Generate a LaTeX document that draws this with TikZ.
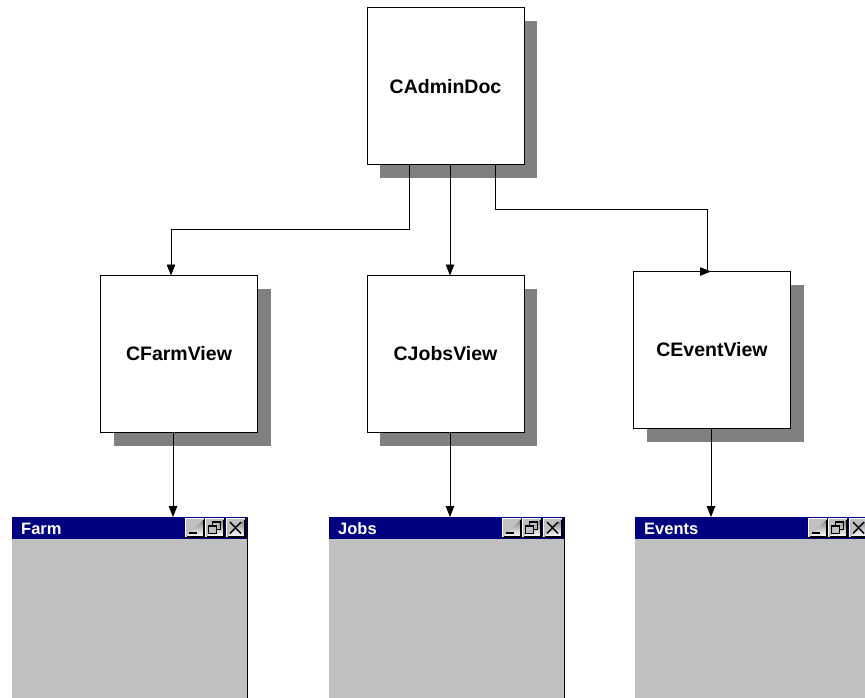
\documentclass[tikz,border=0pt]{standalone}
\usepackage{fontspec}
\setmainfont{Liberation Sans}
\usetikzlibrary{arrows.meta,shadows,calc}
\definecolor{shade}{HTML}{808080}
\definecolor{titleblue}{HTML}{000080}
\definecolor{winface}{HTML}{C0C0C0}
\tikzset{
  classbox/.style={draw=black, line width=1pt, fill=white, minimum width=157pt, minimum height=157pt,
    inner sep=0pt, outer sep=0pt, font=\bfseries\fontsize{19.5}{24}\selectfont,
    drop shadow={shadow xshift=13pt, shadow yshift=-13pt, fill=shade, opacity=1}},
  arr/.style={line width=0.9pt, -{Triangle[length=11pt,width=8.5pt]}},
  link/.style={line width=0.9pt},
  winbody/.style={fill=winface, draw=none, minimum width=236pt, minimum height=190pt, inner sep=0pt, outer sep=0pt},
  titletext/.style={text=white, font=\bfseries\fontsize{16.5}{18}\selectfont, inner sep=0pt},
  % bevelled caption button, origin at its top-left corner
  btnface/.pic={
    \fill[winface] (0,0) rectangle (20,20);
    \draw[white, line width=1pt] (0.5,19) -- (0.5,0.5) -- (19,0.5);
    \draw[shade, line width=1pt] (1.5,18.5) -- (18.5,18.5) -- (18.5,1.5);
    \draw[black, line width=1pt] (0,19.5) -- (19.5,19.5) -- (19.5,0);
  },
  minbtn/.pic={
    \pic {btnface};
    \draw[black, line width=2pt] (4,15) -- (12,15);
  },
  restbtn/.pic={
    \pic {btnface};
    \draw[black, line width=1pt] (7.5,3.5) rectangle (15.5,11);
    \draw[black, line width=2pt] (7.5,4) -- (15.5,4);
    \fill[winface] (3.5,7.5) rectangle (11.5,15.5);
    \draw[black, line width=1pt] (3.5,7.5) rectangle (11.5,15.5);
    \draw[black, line width=2pt] (3.5,8) -- (11.5,8);
  },
  closebtn/.pic={
    \pic {btnface};
    \draw[black, line width=1.4pt] (4,4) -- (15,15.5) (15,4) -- (4,15.5);
  }
}
\begin{document}
\begin{tikzpicture}[x=1pt, y=-1pt]
\useasboundingbox (0,0) rectangle (865,698);
\clip (0,0) rectangle (865,698);

% class boxes
\node[classbox] (admin) at (445.5,86.5) {CAdminDoc};
\node[classbox] (farm)  at (179,354)    {CFarmView};
\node[classbox] (jobs)  at (445.5,354)  {CJobsView};
\node[classbox] (event) at (712,350)    {CEventView};

% document -> views
\draw[arr] ([xshift=-36.5pt]admin.south) -- ++(0,64) -| ([xshift=-8pt]farm.north);
\draw[arr] ([xshift=4.5pt]admin.south) -- ([xshift=4.5pt]jobs.north);
\coordinate (et) at ([xshift=-5pt]event.north);
\draw[link] ([xshift=49.5pt]admin.south) -- ++(0,44) -| (et);
\draw[arr] ([xshift=-8pt]et) -- ([xshift=4pt]et);

% application windows
\foreach \nm/\lx/\ttl in {farmwin/12/Farm, jobswin/329/Jobs, eventwin/635/Events} {
  \node[winbody, anchor=north west] (\nm) at (\lx,517) {};
  \fill[titleblue] (\nm.north west) rectangle ([yshift=-22pt]\nm.north east);
  \node[titletext, anchor=base west] (\nm-title) at ([xshift=9pt,yshift=-17.5pt]\nm.north west) {\ttl};
  \draw[shade, line width=1.5pt] ([xshift=-0.75pt]\nm.north east) -- ([xshift=-0.75pt]\nm.south east);
  \pic at ([xshift=-63pt,yshift=-1pt]\nm.north east) {minbtn};
  \pic at ([xshift=-43pt,yshift=-1pt]\nm.north east) {restbtn};
  \pic at ([xshift=-22pt,yshift=-1pt]\nm.north east) {closebtn};
}

% views -> windows
\coordinate (fa) at ([xshift=-6pt]farm.south);
\coordinate (ja) at ([xshift=4.5pt]jobs.south);
\coordinate (ea) at ([xshift=-1pt]event.south);
\draw[arr] (fa) -- (fa |- farmwin.north);
\draw[arr] (ja) -- (ja |- jobswin.north);
\draw[arr] (ea) -- (ea |- eventwin.north);
\end{tikzpicture}
\end{document}
